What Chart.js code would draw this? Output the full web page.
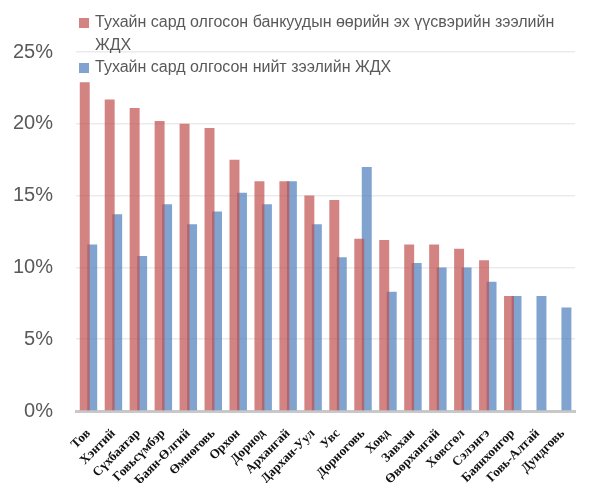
<!DOCTYPE html>
<html>
<head>
<meta charset="utf-8">
<script src="https://cdn.jsdelivr.net/npm/chart.js@4/dist/chart.umd.min.js"></script>
<style>
  html, body { margin: 0; padding: 0; background: #ffffff; }
  #wrap { width: 589px; height: 483px; position: relative; }
</style>
</head>
<body>
<div id="wrap"><canvas id="c" width="589" height="483"></canvas></div>
<script>
const categories = ["Тов", "Хэнтий", "Сүхбаатар", "Говьсүмбэр", "Баян-Өлгий", "Өмнөговь", "Орхон", "Дорнод", "Архангай", "Дархан-Уул", "Увс", "Дорноговь", "Ховд", "Завхан", "Өвөрхангай", "Хөвсгөл", "Сэлэнгэ", "Баянхонгор", "Говь-Алтай", "Дундговь"];
const seriesNames = ["Тухайн сард олгосон банкуудын өөрийн эх үүсвэрийн зээлийн ЖДХ", "Тухайн сард олгосон нийт зээлийн ЖДХ"];
const bankOwnRate = [22.9, 21.7, 21.1, 20.2, 20.0, 19.7, 17.5, 16.0, 16.0, 15.0, 14.7, 12.0, 11.9, 11.6, 11.6, 11.3, 10.5, 8.0, null, null];
const totalRate = [11.6, 13.7, 10.8, 14.4, 13.0, 13.9, 15.2, 14.4, 16.0, 13.0, 10.7, 17.0, 8.3, 10.3, 10.0, 10.0, 9.0, 8.0, 8.0, 7.2];
const yTicks = [0, 5, 10, 15, 20, 25];

const RED = 'rgba(192, 80, 77, 0.7)';
const BLUE = 'rgba(79, 129, 189, 0.72)';

const legendPlugin = {
  id: 'customLegend',
  afterDraw(chart) {
    const ctx = chart.ctx;
    ctx.save();
    ctx.font = '16px "Liberation Sans", Arial, sans-serif';
    ctx.textBaseline = 'middle';
    ctx.textAlign = 'left';
    const textX = 95, maxW = chart.width - textX - 4, lineH = 22.5;
    let y = 23;
    chart.data.datasets.forEach(ds => {
      ctx.fillStyle = ds.backgroundColor;
      ctx.fillRect(79, y - 5, 10, 10);
      ctx.fillStyle = '#595959';
      const words = ds.label.split(' ');
      const lines = [];
      let line = '';
      for (const w of words) {
        const t = line ? line + ' ' + w : w;
        if (line && ctx.measureText(t).width > maxW) { lines.push(line); line = w; }
        else line = t;
      }
      lines.push(line);
      lines.forEach((l, i) => ctx.fillText(l, textX, y + i * lineH));
      y += lines.length * lineH;
    });
    ctx.restore();
  }
};

new Chart(document.getElementById('c'), {
  type: 'bar',
  data: {
    labels: categories,
    datasets: [
      { label: seriesNames[0], data: bankOwnRate, backgroundColor: RED },
      { label: seriesNames[1], data: totalRate, backgroundColor: BLUE }
    ]
  },
  options: {
    responsive: false,
    animation: false,
    devicePixelRatio: 1,
    categoryPercentage: 0.6,
    barPercentage: 1.33,
    layout: { padding: { top: 52, right: 12, left: 0, bottom: 0 } },
    plugins: { legend: { display: false }, tooltip: { enabled: false } },
    scales: {
      x: {
        grid: { display: false, drawTicks: false },
        border: { display: true, color: '#c8c8c8', width: 3 },
        ticks: {
          autoSkip: false,
          minRotation: 45,
          maxRotation: 45,
          padding: 15,
          color: '#111111',
          font: { family: '"Liberation Serif", "Times New Roman", serif', size: 13, weight: 'bold' }
        },
        afterFit(scale) { scale.height = 72; }
      },
      y: {
        min: 0,
        max: 25,
        afterBuildTicks(scale) { scale.ticks = yTicks.map(v => ({ value: v })); },
        grid: {
          color: ctx => ctx.tick && ctx.tick.value === 0 ? 'rgba(0,0,0,0)' : '#ebebeb',
          lineWidth: 1.5,
          drawTicks: false
        },
        border: { display: false },
        ticks: {
          padding: 23,
          color: '#595959',
          font: { family: '"Liberation Sans", Arial, sans-serif', size: 20 },
          callback: v => v + '%'
        },
        afterFit(scale) { scale.width = 76; }
      }
    }
  },
  plugins: [legendPlugin]
});
</script>
</body>
</html>
